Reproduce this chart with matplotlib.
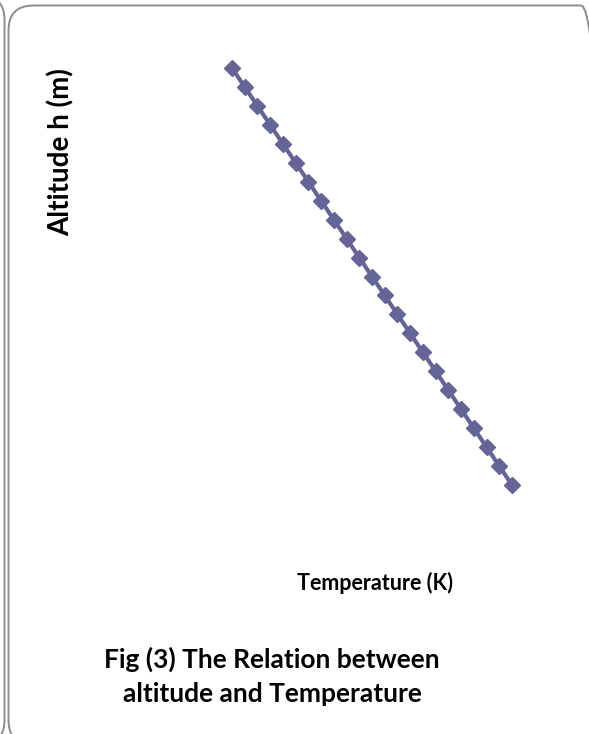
import matplotlib.pyplot as plt
from matplotlib.patches import FancyBboxPatch
from matplotlib.transforms import IdentityTransform

# standard atmosphere, troposphere
altitude = [0, 500, 1000, 1500, 2000, 2500, 3000, 3500, 4000, 4500, 5000, 5500,
            6000, 6500, 7000, 7500, 8000, 8500, 9000, 9500, 10000, 10500, 11000]
temperature = [288.15, 284.9, 281.65, 278.4, 275.15, 271.9, 268.65, 265.4,
               262.15, 258.9, 255.65, 252.4, 249.15, 245.9, 242.65, 239.4,
               236.15, 232.9, 229.65, 226.4, 223.15, 219.9, 216.65]

x_title = "Temperature (K)"
y_title = "Altitude h (m)"
caption = "Fig (3) The Relation between\naltitude and Temperature"

W, H = 589, 734
plt.rcParams['font.family'] = ['Lato', 'DejaVu Sans']
fig = plt.figure(figsize=(W / 100, H / 100), dpi=100)


def box(left, top, right, bottom):
    # rounded frame, corners in output pixels measured from the top left
    fig.add_artist(FancyBboxPatch((left, H - bottom), right - left, bottom - top,
                                  boxstyle="round,pad=0,rounding_size=25",
                                  transform=IdentityTransform(), fill=False,
                                  edgecolor="#8c8c8c", linewidth=1.4))


box(8.5, 5.5, 606, 745)    # this panel
box(-200, -5, 4.5, 745)    # right edge of the neighbouring panel

# plot area chosen so the data lands where it does in the reference
x0, x1 = 232, 512
y0, y1 = 68, 485
ax = fig.add_axes([x0 / W, 1 - y1 / H, (x1 - x0) / W, (y1 - y0) / H])
ax.plot(temperature, altitude, color="#646496", linewidth=3,
        marker="D", markersize=8, markeredgecolor="#646496", clip_on=False)
ax.set_xlim(min(temperature), max(temperature))
ax.set_ylim(min(altitude), max(altitude))
ax.axis("off")

fig.text(61 / W, 1 - 152 / H, y_title, rotation=90, ha="center", va="center",
         fontsize=20, fontweight="bold")
fig.text(375 / W, 1 - 583 / H, x_title, ha="center", va="center",
         fontsize=15.5, fontweight="bold")
fig.text(272 / W, 1 - 676 / H, caption, ha="center", va="center",
         fontsize=19, fontweight="bold", linespacing=1.5)

fig.savefig("out.png", dpi=100)
